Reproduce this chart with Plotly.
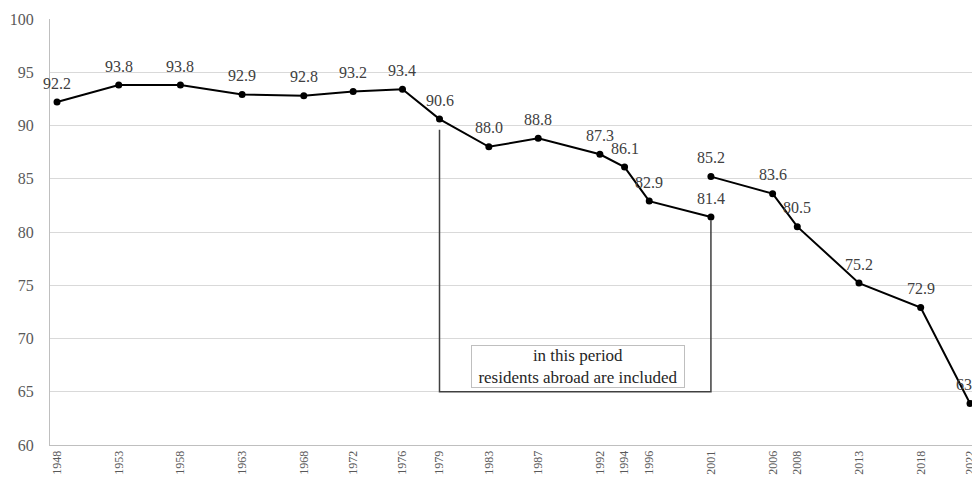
import plotly.graph_objects as go

years_a = [1948, 1953, 1958, 1963, 1968, 1972, 1976, 1979, 1983, 1987, 1992, 1994, 1996, 2001]
values_a = [92.2, 93.8, 93.8, 92.9, 92.8, 93.2, 93.4, 90.6, 88.0, 88.8, 87.3, 86.1, 82.9, 81.4]
years_b = [2001, 2006, 2008, 2013, 2018, 2022]
values_b = [85.2, 83.6, 80.5, 75.2, 72.9, 63.9]
tick_years = [1948, 1953, 1958, 1963, 1968, 1972, 1976, 1979, 1983, 1987, 1992, 1994,
              1996, 2001, 2006, 2008, 2013, 2018, 2022]
note_text = "in this period<br>residents abroad are included"
bracket_years = [1979, 2001]
bracket_bottom = 65

FONT = "Liberation Serif, Times New Roman, serif"

fig = go.Figure()
for xs, ys in [(years_a, values_a), (years_b, values_b)]:
    fig.add_trace(go.Scatter(
        x=xs, y=ys, mode="lines+markers",
        line=dict(color="black", width=2),
        marker=dict(color="black", size=7),
        showlegend=False, hoverinfo="x+y", cliponaxis=False,
    ))
    for x, y in zip(xs, ys):
        fig.add_annotation(x=x, y=y, text=f"{y:.1f}", showarrow=False,
                           yshift=19, font=dict(family=FONT, size=16, color="#404040"))

# bracket marking the period
i0 = years_a.index(bracket_years[0])
i1 = years_a.index(bracket_years[1])
fig.add_trace(go.Scatter(
    x=[bracket_years[0], bracket_years[0], bracket_years[1], bracket_years[1]],
    y=[values_a[i0] - 1.0, bracket_bottom, bracket_bottom, values_a[i1] - 0.3],
    mode="lines", line=dict(color="#404040", width=1.5),
    showlegend=False, hoverinfo="skip",
))
fig.add_annotation(x=(bracket_years[0] + bracket_years[1]) / 2 + 0.2, y=67.4,
                   text=note_text, showarrow=False, align="center",
                   width=212, borderpad=0,
                   bordercolor="#bfbfbf", borderwidth=1, bgcolor="white",
                   font=dict(family=FONT, size=17, color="#262626"))

fig.update_layout(
    width=972, height=478,
    margin=dict(l=50, r=0, t=19, b=33),
    paper_bgcolor="white", plot_bgcolor="white",
    font=dict(family=FONT),
)
fig.update_xaxes(
    range=[1947.43, 2022.16], tickmode="array", tickvals=tick_years,
    ticktext=[str(t) for t in tick_years], tickangle=-90,
    tickfont=dict(family=FONT, size=12, color="#595959"),
    showgrid=False, zeroline=False, showline=True, linecolor="#bfbfbf", linewidth=1,
    automargin=False, ticks="", ticklabeloverflow="allow",
)
fig.update_yaxes(
    range=[60, 100], dtick=5, tick0=60,
    tickfont=dict(family=FONT, size=16, color="#595959"),
    showgrid=True, gridcolor="#d9d9d9", gridwidth=1, zeroline=False,
    showline=True, linecolor="#bfbfbf", linewidth=1, ticklabelstandoff=12,
    automargin=False,
)
fig.write_html("out.html", config={"displayModeBar": False},
               post_script="document.body.style.margin='0';document.body.style.overflow='hidden';")
